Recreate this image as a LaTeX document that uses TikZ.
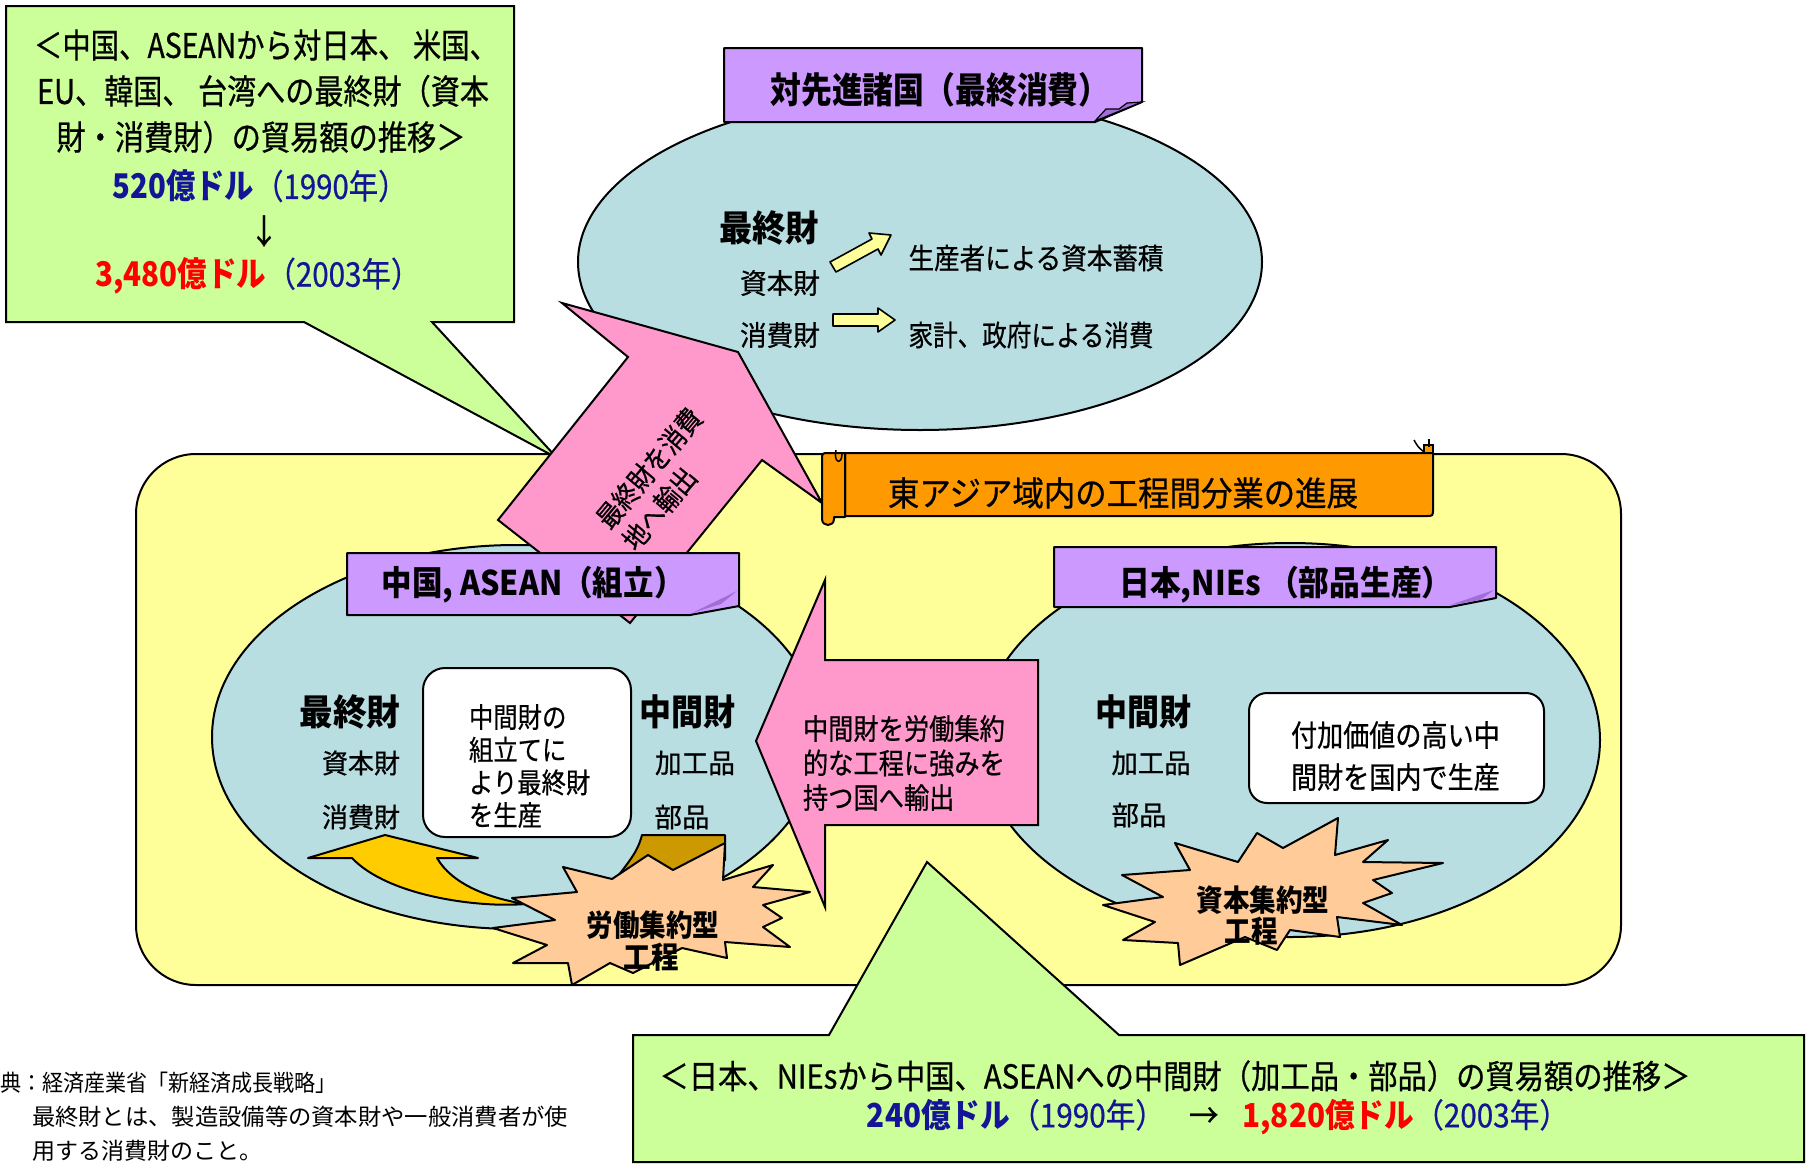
\documentclass[tikz,border=0pt]{standalone}
\usepackage{fontspec}
\usepackage{graphicx}
\setmainfont{Noto Sans CJK JP}
\newfontfamily\jc{Noto Sans CJK JP}[FakeStretch=0.87]
\newfontfamily\jm{Noto Sans CJK JP}[FakeStretch=0.87, FakeBold=0.6]
\newfontfamily\jn{Noto Sans CJK JP}
\newcommand\fitw[2]{\resizebox{#1pt}{\height}{#2}}
\definecolor{cgreen}{RGB}{204,255,153}
\definecolor{cblue}{RGB}{185,222,226}
\definecolor{cyellow}{RGB}{255,255,153}
\definecolor{cpurple}{RGB}{204,153,255}
\definecolor{cpurpled}{RGB}{160,110,215}
\definecolor{cpink}{RGB}{255,153,204}
\definecolor{corange}{RGB}{255,153,0}
\definecolor{cpeach}{RGB}{255,204,153}
\definecolor{cgold}{RGB}{255,204,0}
\definecolor{cbrown}{RGB}{204,153,0}
\definecolor{cnavy}{RGB}{20,20,150}
\tikzset{
  ln/.style={line width=2pt, line join=round, draw=black},
  txt/.style={inner sep=0pt, outer sep=0pt},
}
\begin{document}
\begin{tikzpicture}[x=1pt,y=-1pt]
\useasboundingbox (0,0) rectangle (1810,1165);
\fill[white] (0,0) rectangle (1810,1165);

% top ellipse
\draw[ln, fill=cblue] (920,262) ellipse [x radius=342pt, y radius=168pt];

% big yellow region
\draw[ln, fill=cyellow, rounded corners=60pt] (136,454) rectangle (1621,985);

% callout 1
\draw[ln, fill=cgreen, line join=miter] (6,6) -- (514,6) -- (514,322) -- (432,322) -- (557,458) -- (304,322) -- (6,322) -- cycle;

% label 1
\draw[ln, fill=cpurple] (724,48) -- (1142,48) -- (1142,102) -- (1095,122) -- (724,122) -- cycle;
\draw[line width=1.2pt, fill=cpurpled] (1095,121) -- (1106,109) -- (1119,109) -- (1127,103) -- (1142,102) -- cycle;

% small arrows in top ellipse
\draw[ln, fill=cyellow, line width=1.6pt] (830,262) -- (872,239) -- (869,233) -- (891,235) -- (881,255) -- (878,249) -- (836,272) -- cycle;
\draw[ln, fill=cyellow, line width=1.6pt] (833,314) -- (878,314) -- (878,308) -- (895,320) -- (878,332) -- (878,326) -- (833,326) -- cycle;

% lower ellipses
\draw[ln, fill=cblue] (516,737) ellipse [x radius=304pt, y radius=192pt];
\draw[ln, fill=cblue] (1290,740) ellipse [x radius=310pt, y radius=197pt];

% curved arrows in China ellipse
\draw[ln, fill=cgold] (308,858) -- (385,835) -- (478,858) -- (437,858) .. controls (452,884) and (488,898) .. (525,904) .. controls (478,908) and (388,896) .. (352,858) -- cycle;
\draw[ln, fill=cbrown] (642,835) -- (725,835) -- (725,860) -- (690,895) -- (612,885) .. controls (625,865) and (637,855) .. (642,835) -- cycle;

% white boxes
\draw[ln, fill=white, rounded corners=22pt] (423,668) rectangle (631,837);
\draw[ln, fill=white, rounded corners=18pt] (1249,693) rectangle (1544,803);

% pink arrow up-right
\draw[ln, fill=cpink, line join=miter] (628,357) -- (562,303) -- (738,352) -- (822,503) -- (762,460) -- (630,623) -- (498,520) -- cycle;

% China label
\draw[ln, fill=cpurple] (347,553) -- (739,553) -- (739,606) -- (690,615) -- (347,615) -- cycle;
\fill[cpurpled] (692,613) -- (737,591) -- (721,604) -- cycle;

% scroll banner
\draw[ln, fill=corange] (845,453) -- (1433,453) -- (1433,509) .. controls (1433,516) .. (1426,516) -- (845,516) -- cycle;
\draw[ln, fill=corange] (845,453) -- (829,453) .. controls (822,453) .. (822,460) -- (822,519) .. controls (822,527) and (834,527) .. (834,519) -- (834,517) -- (845,517) -- cycle;
\draw[line width=1.5pt] (836,450) .. controls (833,463) and (842,465) .. (842,454);
\draw[line width=1.5pt, fill=corange] (1424,445) rectangle (1433,453);
\draw[line width=1.5pt] (1414,440) .. controls (1418,447) .. (1424,452);
\draw[line width=1.5pt] (1429,439) -- (1429,447);

% NIEs label
\draw[ln, fill=cpurple] (1054,547) -- (1496,547) -- (1496,598) -- (1450,607) -- (1054,607) -- cycle;
\fill[cpurpled] (1450,605) -- (1494,590) -- (1480,600) -- cycle;

% pink arrow left
\draw[ln, fill=cpink, line join=miter] (756,741) -- (825,580) -- (825,660) -- (1038,660) -- (1038,825) -- (825,825) -- (825,907) -- cycle;

% starbursts
\draw[ln, fill=cpeach] (563,867) -- (612,879) -- (648,855) -- (673,870) -- (725,843) -- (723,880) -- (773,865) -- (753,887) -- (810,892) -- (763,905) -- (782,918) -- (763,927) -- (790,947) -- (725,942) -- (727,958) -- (682,948) -- (633,973) -- (610,963) -- (572,985) -- (568,963) -- (513,963) -- (547,945) -- (493,928) -- (555,920) -- (512,898) -- (577,892) -- cycle;
\draw[ln, fill=cpeach] (1175,843) -- (1238,862) -- (1257,833) -- (1283,848) -- (1338,818) -- (1335,855) -- (1388,840) -- (1363,862) -- (1443,863) -- (1373,880) -- (1392,893) -- (1363,903) -- (1402,925) -- (1337,917) -- (1340,937) -- (1290,930) -- (1277,950) -- (1245,937) -- (1180,965) -- (1178,943) -- (1123,940) -- (1155,922) -- (1103,905) -- (1163,897) -- (1122,875) -- (1190,870) -- cycle;

% callout 2
\draw[ln, fill=cgreen, line join=miter] (633,1035) -- (829,1035) -- (927,862) -- (1119,1035) -- (1804,1035) -- (1804,1162) -- (633,1162) -- cycle;

% ---------- texts ----------
\begin{scope}[every node/.style={txt}]
% callout 1
\node[font=\jm\fontsize{34}{40}\selectfont] (c1a) at (266,45) {\fitw{464}{＜中国、ASEANから対日本、 米国、}};
\node[font=\jm\fontsize{34}{40}\selectfont] (c1b) at (263,91) {\fitw{452}{EU、韓国、 台湾への最終財（資本}};
\node[font=\jm\fontsize{34}{40}\selectfont] (c1c) at (261,137) {\fitw{409}{財・消費財）の貿易額の推移＞}};
\node[font=\jm\fontsize{34}{40}\selectfont, text=cnavy] (c1d) at (260,186) {\fitw{295}{{\jc\bfseries 520億ドル}（1990年）}};
\node[font=\jm\fontsize{34}{40}\selectfont] (c1e) at (264,231) {↓};
\node[font=\jm\fontsize{34}{40}\selectfont] (c1f) at (258,276) {\fitw{325}{{\color{red}\jc\bfseries 3,480億ドル}{\color{cnavy}（2003年）}}};

% label 1 and top ellipse
\node[font=\jc\bfseries\fontsize{36}{40}\selectfont] (lab1) at (940,90) {\fitw{339}{対先進諸国（最終消費）}};
\node[font=\jc\bfseries\fontsize{36}{40}\selectfont] (t1) at (769,228) {\fitw{100}{最終財}};
\node[font=\jm\fontsize{28}{32}\selectfont] (t2) at (780,283) {\fitw{80}{資本財}};
\node[font=\jm\fontsize{28}{32}\selectfont] (t3) at (780,335) {\fitw{80}{消費財}};
\node[font=\jm\fontsize{29}{32}\selectfont] (t4) at (1036,258) {\fitw{255}{生産者による資本蓄積}};
\node[font=\jm\fontsize{29}{32}\selectfont] (t5) at (1031,335) {\fitw{245}{家計、政府による消費}};

% pink arrow 1 text
\node[rotate=50, align=left, font=\jm\fontsize{28}{34}\selectfont] (p1) at (662,479) {最終財を消費\\地へ輸出};

% banner
\node[font=\jm\fontsize{34}{40}\selectfont] (scr) at (1123,493) {\fitw{470}{東アジア域内の工程間分業の進展}};

% labels
\node[font=\jc\bfseries\fontsize{34}{40}\selectfont] (lab2) at (533,585) {\fitw{303}{中国, ASEAN（組立）}};
\node[font=\jc\bfseries\fontsize{34}{40}\selectfont] (lab3) at (1286,585) {\fitw{333}{日本,NIEs （部品生産）}};

% China ellipse
\node[font=\jc\bfseries\fontsize{36}{40}\selectfont] (a1) at (350,712) {\fitw{101}{最終財}};
\node[font=\jm\fontsize{27}{32}\selectfont] (a2) at (361,763) {\fitw{78}{資本財}};
\node[font=\jm\fontsize{27}{32}\selectfont] (a3) at (361,817) {\fitw{78}{消費財}};
\node[font=\jc\bfseries\fontsize{36}{40}\selectfont] (a4) at (687,712) {\fitw{96}{中間財}};
\node[font=\jm\fontsize{27}{32}\selectfont] (a5) at (695,763) {\fitw{80}{加工品}};
\node[font=\jm\fontsize{27}{32}\selectfont] (a6) at (682,817) {\fitw{55}{部品}};
\node[anchor=west, align=left, font=\jm\fontsize{28}{32.7}\selectfont] (a7) at (469,766) {中間財の\\組立てに\\より最終財\\を生産};

% NIEs ellipse
\node[font=\jc\bfseries\fontsize{36}{40}\selectfont] (b1) at (1143,712) {\fitw{96}{中間財}};
\node[font=\jm\fontsize{27}{32}\selectfont] (b2) at (1151,763) {\fitw{79}{加工品}};
\node[font=\jm\fontsize{27}{32}\selectfont] (b3) at (1139,815) {\fitw{55}{部品}};
\node[anchor=west, align=left, font=\jm\fontsize{30}{42}\selectfont] (b4) at (1291,756) {付加価値の高い中\\間財を国内で生産};

% pink arrow 2 text
\node[anchor=west, align=left, font=\jm\fontsize{29}{34.5}\selectfont] (p2) at (803,763) {中間財を労働集約\\的な工程に強みを\\持つ国へ輸出};

% starburst texts
\node[font=\jc\bfseries\fontsize{30}{34}\selectfont] (s1a) at (653,925) {\fitw{133}{労働集約型}};
\node[font=\jc\bfseries\fontsize{30}{34}\selectfont] (s1b) at (651,957) {\fitw{55}{工程}};
\node[font=\jc\bfseries\fontsize{30}{34}\selectfont] (s2a) at (1263,900) {\fitw{133}{資本集約型}};
\node[font=\jc\bfseries\fontsize{30}{34}\selectfont] (s2b) at (1251,931) {\fitw{53}{工程}};

% callout 2
\node[font=\jm\fontsize{33}{40}\selectfont] (c2a) at (1175,1076) {\fitw{1031}{＜日本、NIEsから中国、ASEANへの中間財（加工品・部品）の貿易額の推移＞}};
\node[font=\jm\fontsize{33}{40}\selectfont] (c2b) at (1218,1117) {\fitw{702}{{\color{cnavy}\jc\bfseries 240億ドル}{\color{cnavy}（1990年）}\hspace{0.7em}→\hspace{0.7em}{\color{red}\jc\bfseries 1,820億ドル}{\color{cnavy}（2003年）}}};

% footnotes
\node[anchor=west, font=\jn\fontsize{23}{28}\selectfont] (f1) at (0,1083) {\fitw{337}{典：経済産業省「新経済成長戦略」}};
\node[anchor=west, font=\jn\fontsize{23}{28}\selectfont] (f2) at (32,1117) {\fitw{536}{最終財とは、製造設備等の資本財や一般消費者が使}};
\node[anchor=west, font=\jn\fontsize{23}{28}\selectfont] (f3) at (32,1151) {用する消費財のこと。};
\end{scope}
\end{tikzpicture}
\end{document}
